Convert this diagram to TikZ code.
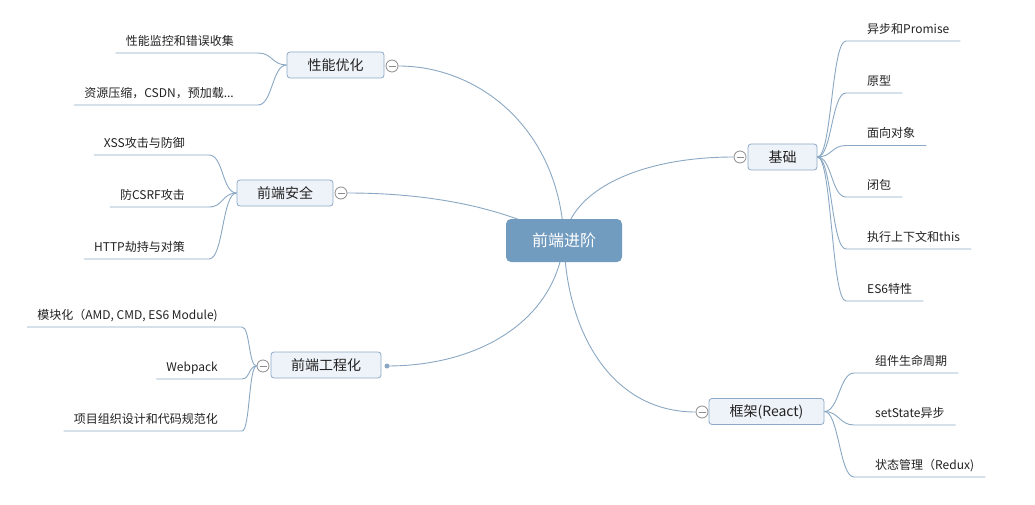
\documentclass[tikz,border=0pt]{standalone}
\usepackage{fontspec}
\setmainfont{Noto Sans CJK SC}
\usetikzlibrary{calc,backgrounds}
\definecolor{lineC}{RGB}{138,168,196}
\definecolor{boxB}{RGB}{141,170,200}
\definecolor{boxF}{RGB}{238,243,249}
\definecolor{ctrF}{RGB}{113,155,191}
\definecolor{txt}{RGB}{34,34,34}
\definecolor{tog}{RGB}{140,140,140}
\begin{document}
\begin{tikzpicture}[x=1pt,y=-1pt,
  conn/.style={draw=lineC, line width=0.9pt},
  centertopic/.style={fill=ctrF, rounded corners=5pt, minimum width=116pt, minimum height=43pt, text=white, font=\fontsize{16}{19}\selectfont, inner sep=0},
  topic/.style={draw=boxB, fill=boxF, rounded corners=3pt, minimum height=26pt, text=txt, font=\fontsize{14}{17}\selectfont, inner sep=0, line width=0.8pt},
  leaf/.style={text=txt, font=\fontsize{12}{14}\selectfont, inner sep=0},
  toggle/.style={circle, draw=tog, fill=white, minimum size=12pt, inner sep=0, line width=0.8pt,
    path picture={\draw[tog, line width=0.8pt] ([xshift=2.5pt]path picture bounding box.west) -- ([xshift=-2.5pt]path picture bounding box.east);}},
  dotnode/.style={circle, fill=lineC, minimum size=5pt, inner sep=0},
]
\useasboundingbox (0,0) rectangle (1035,505);

% main topics
\node[centertopic] (cn) at (564,240.5) {前端进阶};
\node[topic, minimum width=97pt] (b1) at (335.5,65) {性能优化};
\node[toggle] (t1) at (392,66) {};
\node[topic, minimum width=96pt] (b2) at (285,193) {前端安全};
\node[toggle] (t2) at (341,193) {};
\node[topic, minimum width=110pt] (b3) at (326,365) {前端工程化};
\node[toggle] (t3) at (263,366) {};
\node[dotnode] (d3) at (387,366) {};
\node[topic, minimum width=69pt] (b4) at (782.5,157) {基础};
\node[toggle] (t4) at (740,157) {};
\node[topic, minimum width=115pt] (b5) at (766.5,411.5) {框架(React)};
\node[toggle] (t5) at (702,412) {};

\begin{pgfonlayer}{background}
\fill[white] (0,0) rectangle (1035,505);
\draw[conn] (t1.east) .. controls (480,66) and (560,130) .. (cn.center);
\draw[conn] (t2.east) .. controls (450,193) and (520,215) .. (cn.center);
\draw[conn] (d3.center) .. controls (480,366) and (556,320) .. (cn.center);
\draw[conn] (t4.west) .. controls (640,157) and (570,190) .. (cn.center);
\draw[conn] (t5.west) .. controls (610,412) and (566,330) .. (cn.center);
\end{pgfonlayer}

% 性能优化
\node[leaf, anchor=base east] (l11) at (234,45.5) {性能监控和错误收集};
\node[leaf, anchor=base east] (l12) at (234,97.5) {资源压缩，CSDN，预加载...};
\draw[conn] (b1.west) .. controls +(-14.5,0) and +(14.5,0) .. ($(l11.base east)+(24,7.5)$) -- ($(l11.base west)+(-10,7.5)$);
\draw[conn] (b1.west) .. controls +(-14.5,0) and +(14.5,0) .. ($(l12.base east)+(24,7.5)$) -- ($(l12.base west)+(-10,7.5)$);

% 前端安全
\node[leaf, anchor=base east] (l21) at (185,147.5) {XSS攻击与防御};
\node[leaf, anchor=base east] (l22) at (185,199.5) {防CSRF攻击};
\node[leaf, anchor=base east] (l23) at (185,251.5) {HTTP劫持与对策};
\draw[conn] (b2.west) .. controls +(-14.5,0) and +(14.5,0) .. ($(l21.base east)+(24,7.5)$) -- ($(l21.base west)+(-10,7.5)$);
\draw[conn] (b2.west) .. controls +(-14.5,0) and +(14.5,0) .. ($(l22.base east)+(24,7.5)$) -- ($(l22.base west)+(-10,7.5)$);
\draw[conn] (b2.west) .. controls +(-14.5,0) and +(14.5,0) .. ($(l23.base east)+(24,7.5)$) -- ($(l23.base west)+(-10,7.5)$);

% 前端工程化
\node[leaf, anchor=base east] (l31) at (218,319.5) {模块化（AMD, CMD, ES6 Module)};
\node[leaf, anchor=base east] (l32) at (218,371.5) {Webpack};
\node[leaf, anchor=base east] (l33) at (218,423.5) {项目组织设计和代码规范化};
\draw[conn] (t3.west) .. controls +(-8,0) and +(8,0) .. ($(l31.base east)+(24,7.5)$) -- ($(l31.base west)+(-10,7.5)$);
\draw[conn] (t3.west) .. controls +(-8,0) and +(8,0) .. ($(l32.base east)+(24,7.5)$) -- ($(l32.base west)+(-10,7.5)$);
\draw[conn] (t3.west) .. controls +(-8,0) and +(8,0) .. ($(l33.base east)+(24,7.5)$) -- ($(l33.base west)+(-10,7.5)$);

% 基础
\node[leaf, anchor=base west] (r11) at (867,33.5) {异步和Promise};
\node[leaf, anchor=base west] (r12) at (867,85.5) {原型};
\node[leaf, anchor=base west] (r13) at (867,138) {面向对象};
\node[leaf, anchor=base west] (r14) at (867,189.5) {闭包};
\node[leaf, anchor=base west] (r15) at (867,241.5) {执行上下文和this};
\node[leaf, anchor=base west] (r16) at (867,293.5) {ES6特性};
\foreach \r in {r11,r12,r13,r14,r15,r16}{
  \draw[conn] (b4.east) .. controls +(14.5,0) and +(-14.5,0) .. ($(\r.base west)+(-21,7.5)$) -- ($(\r.base east)+(11,7.5)$);
}

% 框架(React)
\node[leaf, anchor=base west] (r21) at (875,365.5) {组件生命周期};
\node[leaf, anchor=base west] (r22) at (875,417.5) {setState异步};
\node[leaf, anchor=base west] (r23) at (875,469.5) {状态管理（Redux)};
\foreach \r in {r21,r22,r23}{
  \draw[conn] (b5.east) .. controls +(14.5,0) and +(-14.5,0) .. ($(\r.base west)+(-21,7.5)$) -- ($(\r.base east)+(11,7.5)$);
}
\end{tikzpicture}
\end{document}
